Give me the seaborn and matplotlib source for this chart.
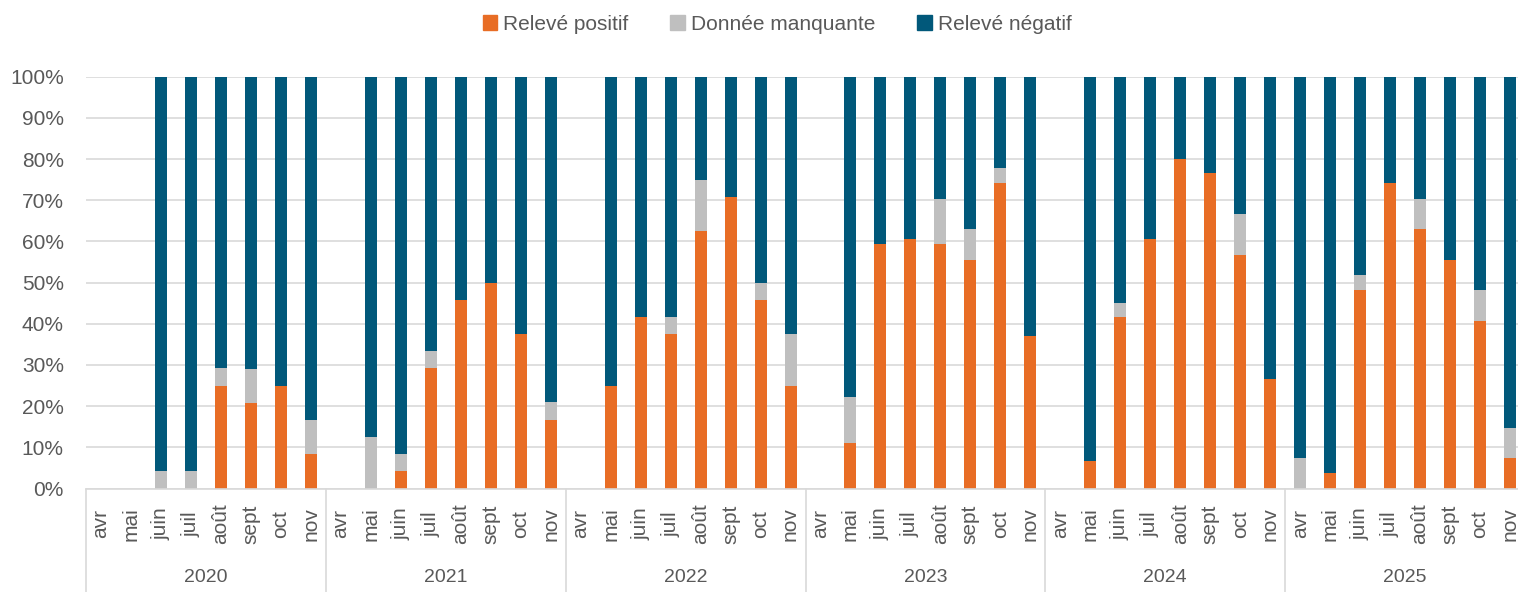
import numpy as np
import pandas as pd
import matplotlib.pyplot as plt
import matplotlib.transforms as mtransforms
from matplotlib.patches import Patch
import seaborn as sns

YEARS = ['2020', '2021', '2022', '2023', '2024', '2025']
MONTHS = ['avr', 'mai', 'juin', 'juil', 'août', 'sept', 'oct', 'nov']
LABELS = ['Relevé positif', 'Donnée manquante', 'Relevé négatif']

# % of readings per month, one row per year (nan = no readings that month)
nan = np.nan
POSITIVE = [
    nan, nan, 0.0, 0.0, 25.0, 20.8, 25.0, 8.3,      # 2020
    nan, 0.0, 4.2, 29.2, 45.8, 50.0, 37.5, 16.7,    # 2021
    nan, 25.0, 41.7, 37.5, 62.5, 70.8, 45.8, 25.0,  # 2022
    nan, 11.1, 59.3, 60.7, 59.3, 55.6, 74.1, 37.0,  # 2023
    nan, 6.7, 41.7, 60.6, 80.0, 76.7, 56.7, 26.7,   # 2024
    0.0, 3.7, 48.1, 74.1, 63.0, 55.6, 40.7, 7.4,    # 2025
]
MISSING = [
    nan, nan, 4.2, 4.2, 4.2, 8.3, 0.0, 8.3,
    nan, 12.5, 4.2, 4.2, 0.0, 0.0, 0.0, 4.2,
    nan, 0.0, 0.0, 4.2, 12.5, 0.0, 4.2, 12.5,
    nan, 11.1, 0.0, 0.0, 11.1, 7.4, 3.7, 0.0,
    nan, 0.0, 3.3, 0.0, 0.0, 0.0, 10.0, 0.0,
    7.4, 0.0, 3.7, 0.0, 7.4, 0.0, 7.4, 7.4,
]

ORANGE = '#E86D25'
GREY = '#BFBFBF'
BLUE = '#01587A'
TXT = '#595959'
LINE = '#D9D9D9'

keys = [f'{y}-{m}' for y in YEARS for m in MONTHS]
df = pd.DataFrame({'key': keys, 'pos': POSITIVE, 'miss': MISSING}).dropna()
df['neg'] = 100 - df['pos'] - df['miss']
df['top_miss'] = df['pos'] + df['miss']
df['top_neg'] = df['top_miss'] + df['neg']

sns.set_style('white')
plt.rcParams['font.family'] = ['Liberation Sans Narrow', 'Liberation Sans', 'DejaVu Sans']

fig = plt.figure(figsize=(15.18, 5.92), dpi=100)
ax = fig.add_axes([86 / 1518, 103.5 / 592, 1439 / 1518, 411.8 / 592])

# stacked bars drawn as cumulative layers
for col, color in [('top_neg', BLUE), ('top_miss', GREY), ('pos', ORANGE)]:
    sns.barplot(data=df, x='key', y=col, order=keys, color=color, width=0.4,
                saturation=1, errorbar=None, linewidth=0, ax=ax)

ax.set_xlim(-0.5, len(keys) - 0.5)
ax.set_ylim(0, 100)
ax.set_yticks(range(0, 101, 10))
ax.set_yticklabels([f'{v}%' for v in range(0, 101, 10)], fontsize=15, color=TXT)
ax.tick_params(axis='y', length=0, pad=16)
ax.set_xticks(range(len(keys)))
ax.set_xticklabels([])
ax.tick_params(axis='x', length=0)
ax.set_xlabel('')
ax.set_ylabel('')
ax.yaxis.grid(True, color=LINE, lw=1.2)
ax.set_axisbelow(True)
for s in ['top', 'right', 'left']:
    ax.spines[s].set_visible(False)
ax.spines['bottom'].set_color(LINE)
ax.spines['bottom'].set_linewidth(1.2)

# two-level category axis
trans = mtransforms.blended_transform_factory(ax.transData, ax.transAxes)
for i, k in enumerate(keys):
    ax.text(i, -0.086, k.split('-')[1], transform=trans, rotation=90,
            ha='center', va='center', fontsize=15, color=TXT)
for j, y in enumerate(YEARS):
    ax.text(j * 8 + 3.5, -0.217, y, transform=trans, ha='center', va='center',
            fontsize=14, color=TXT)
for j in range(len(YEARS) + 1):
    x = j * 8 - 0.5
    ax.plot([x, x], [0, -0.26], transform=trans, color=LINE, lw=1.2, clip_on=False)

handles = [Patch(color=c, label=l) for c, l in zip([ORANGE, GREY, BLUE], LABELS)]
fig.legend(handles=handles, loc='center', bbox_to_anchor=(0.512, 0.959), ncol=3,
           frameon=False, fontsize=15, handlelength=0.7, handleheight=0.7,
           handletextpad=0.3, columnspacing=2.0, labelcolor=TXT)

fig.savefig('out.png', dpi=100)
